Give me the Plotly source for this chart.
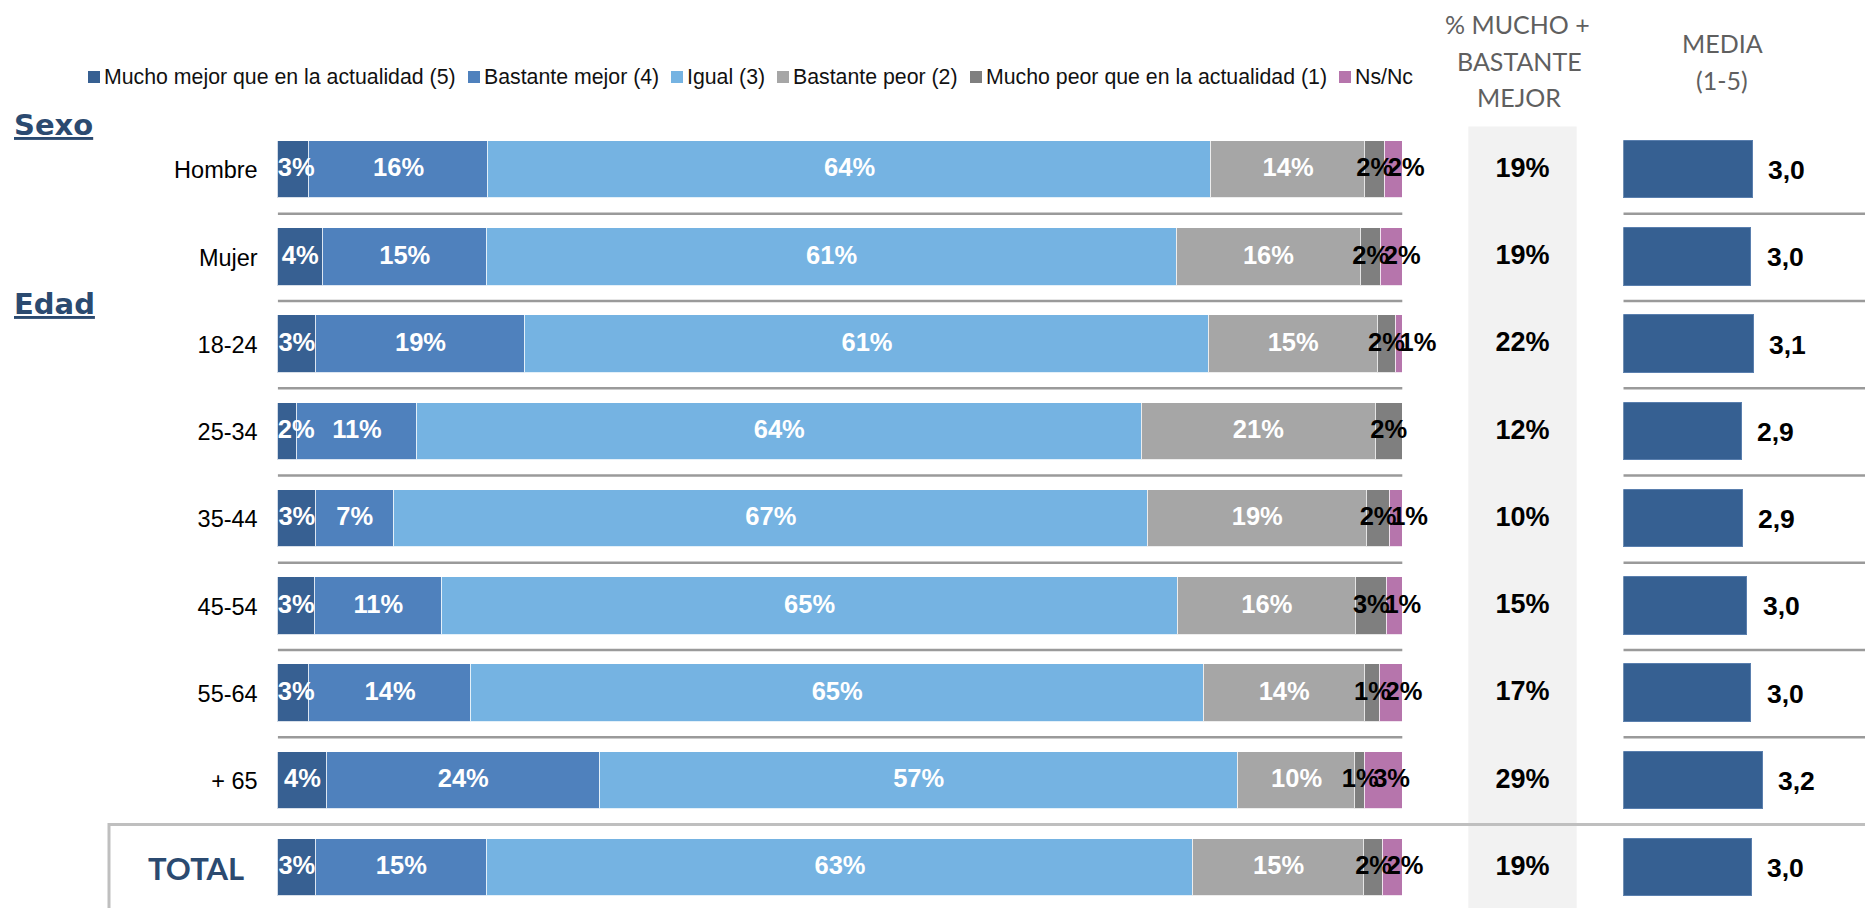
import plotly.graph_objects as go

# ---------------- data ----------------
rows = ["Hombre", "Mujer", "18-24", "25-34", "35-44", "45-54", "55-64", "+ 65", "TOTAL"]

series_names = [
    "Mucho mejor que en la actualidad (5)",
    "Bastante mejor (4)",
    "Igual (3)",
    "Bastante peor (2)",
    "Mucho peor que en la actualidad (1)",
    "Ns/Nc",
]
mucho_mejor = [2.8, 4.0, 3.4, 1.7, 3.4, 3.3, 2.8, 4.4, 3.4]
bastante_mejor = [15.9, 14.6, 18.6, 10.7, 6.9, 11.3, 14.4, 24.2, 15.2]
igual = [64.3, 61.3, 60.8, 64.4, 67.1, 65.4, 65.1, 56.8, 62.8]
bastante_peor = [13.7, 16.4, 15.0, 20.8, 19.4, 15.9, 14.4, 10.4, 15.2]
mucho_peor = [1.7, 1.8, 1.6, 2.4, 2.1, 2.7, 1.3, 0.9, 1.7]
ns_nc = [1.6, 1.9, 0.6, 0.0, 1.1, 1.4, 2.0, 3.3, 1.7]

pct_mucho_bastante = [19, 19, 22, 12, 10, 15, 17, 29, 19]
media = [3.04, 3.02, 3.06, 2.87, 2.89, 2.96, 3.02, 3.20, 3.03]

# ---------------- styles ----------------
W, H = 1865, 908
colors = ["#376092", "#4F81BD", "#75B3E2", "#A6A6A6", "#7F7F7F", "#B675AC"]
label_colors = ["white", "white", "white", "white", "black", "black"]
navy = "#2B4A70"
header_gray = "#5F5F5F"
sep_gray = "#9A9A9A"
ARIAL = "Liberation Sans, Arial, sans-serif"

ypos = list(range(len(rows)))
top_px = 126.4
row_px = 87.25
y_end = -0.5 + (H - top_px) / row_px
bar_w = 0.661

# stacked axis: 0..100 % spans 277.7px..1402.3px; range extended to 105 so that
# labels past the bar end stay visible
x_left = 277.7
px_per_pct = (1402.3 - 277.7) / 100
x_max = 105
x_right = x_left + x_max * px_per_pct
m_left = 1623.3
m_px_per_unit = 63.5
m_end = 1 + (W - m_left) / m_px_per_unit
c_left, c_right = 1468.3, 1576.7

# label placement helpers (in % units of the stacked axis)
LABEL_HALF = 1.65      # half of a "3%" label, keeps first label inside the plot
LABEL_STEP = 2.8       # min distance between the two right-most labels

fig = go.Figure()

all_series = [mucho_mejor, bastante_mejor, igual, bastante_peor, mucho_peor, ns_nc]

# stacked bars (labels drawn afterwards, on top of every bar)
for name, vals, col in zip(series_names, all_series, colors):
    fig.add_trace(go.Bar(
        y=ypos, x=vals, name=name, orientation="h",
        marker=dict(color=col, line=dict(color="rgba(255,255,255,0.8)", width=1)),
        width=bar_w, showlegend=False, hoverinfo="skip",
        xaxis="x", yaxis="y",
    ))

# segment label positions: centre of each segment, nudged like the original
mids_all = []
cum = [0.0] * len(rows)
for vals in all_series:
    mids_all.append([c + v / 2 for c, v in zip(cum, vals)])
    cum = [c + v for c, v in zip(cum, vals)]
mids_all[0] = [max(m, LABEL_HALF) for m in mids_all[0]]
mids_all[5] = [max(m, p + LABEL_STEP) for m, p in zip(mids_all[5], mids_all[4])]

for vals, mids, lc in zip(all_series, mids_all, label_colors):
    fig.add_trace(go.Scatter(
        x=mids, y=ypos, mode="text",
        text=[f"{v:.0f}%" if v > 0 else "" for v in vals],
        textposition="middle center",
        textfont=dict(family=ARIAL, size=25.5, color=lc, weight="bold"),
        cliponaxis=False, showlegend=False, hoverinfo="skip",
        xaxis="x", yaxis="y",
    ))

# media bars
fig.add_trace(go.Bar(
    y=ypos, x=media, orientation="h", width=bar_w,
    marker=dict(color="#366092", line=dict(color="#5A7FAE", width=1)),
    showlegend=False, hoverinfo="skip", xaxis="x2", yaxis="y",
))

# % mucho + bastante column
fig.add_trace(go.Scatter(
    x=[0] * len(rows), y=ypos, mode="text",
    text=[f"{v}%" for v in pct_mucho_bastante],
    textfont=dict(family=ARIAL, size=27, color="black", weight="bold"),
    textposition="middle center", cliponaxis=False,
    showlegend=False, hoverinfo="skip", xaxis="x3", yaxis="y",
))

annotations = []
# media labels
for yi, v in zip(ypos, media):
    annotations.append(dict(
        x=v, y=yi, xref="x2", yref="y", xanchor="left", yanchor="middle",
        xshift=13, text=f"{v:.1f}".replace(".", ","), showarrow=False,
        font=dict(family=ARIAL, size=26.5, color="black", weight="bold"),
    ))

# TOTAL label
annotations.append(dict(
    x=196 / W, y=ypos[-1], xref="paper", yref="y", xanchor="center", yanchor="middle",
    text="<b>TOTAL</b>", showarrow=False,
    font=dict(family="Lato, DejaVu Sans, sans-serif", size=31, color=navy),
))
# group headings
for txt, ypx in [("Sexo", 125), ("Edad", 304)]:
    annotations.append(dict(
        x=12 / W, y=1 - ypx / H, xref="paper", yref="paper", xanchor="left", yanchor="middle",
        text=f"<b><u>{txt}</u></b>", showarrow=False,
        font=dict(family="DejaVu Sans, sans-serif", size=29, color=navy),
    ))
# column headers
for txt, xpx, ypx in [("% MUCHO +", 1517, 24), ("BASTANTE", 1519, 61), ("MEJOR", 1519, 97),
                      ("MEDIA", 1722, 43), ("(1-5)", 1722, 80)]:
    annotations.append(dict(
        x=xpx / W, y=1 - ypx / H, xref="paper", yref="paper", xanchor="center", yanchor="middle",
        text=txt, showarrow=False,
        font=dict(family="Lato, Open Sans, sans-serif", size=25, color=header_gray),
    ))

shapes = []
# grey background column
shapes.append(dict(type="rect", xref="paper", yref="paper",
                   x0=c_left / W, x1=c_right / W, y0=0, y1=1 - top_px / H,
                   fillcolor="#F2F2F2", line=dict(width=0), layer="below"))
# row separators
for i in range(len(rows) - 2):
    yv = ypos[i] + 0.5
    shapes.append(dict(type="line", xref="x", yref="y", x0=0, x1=100, y0=yv, y1=yv,
                       line=dict(color=sep_gray, width=2.5)))
    shapes.append(dict(type="line", xref="x2", yref="y", x0=1, x1=m_end, y0=yv, y1=yv,
                       line=dict(color=sep_gray, width=2.5)))
# TOTAL box
box_top = 1 - (top_px + (len(rows) - 1) * row_px) / H
shapes.append(dict(type="rect", xref="paper", yref="paper",
                   x0=109 / W, x1=1.05, y0=-0.2, y1=box_top,
                   line=dict(color="#BFBFBF", width=3), fillcolor="rgba(0,0,0,0)"))

# legend drawn as squares + texts
leg_x = [88, 468, 671, 777, 970, 1339]
leg_y = 77
for sx, name, col in zip(leg_x, series_names, colors):
    shapes.append(dict(type="rect", xref="paper", yref="paper",
                       x0=sx / W, x1=(sx + 12) / W,
                       y0=1 - (leg_y + 6) / H, y1=1 - (leg_y - 6) / H,
                       fillcolor=col, line=dict(width=0)))
    annotations.append(dict(
        x=(sx + 14) / W, y=1 - leg_y / H, xref="paper", yref="paper",
        xanchor="left", yanchor="middle", text=name, showarrow=False,
        font=dict(family=ARIAL, size=21.3, color="#111111"),
    ))

fig.update_layout(
    width=W, height=H,
    margin=dict(l=0, r=0, t=0, b=0, pad=0),
    paper_bgcolor="white", plot_bgcolor="rgba(0,0,0,0)",
    barmode="stack", bargap=0,
    showlegend=False,
    font=dict(family=ARIAL, color="black"),
    xaxis=dict(domain=[x_left / W, x_right / W], range=[0, x_max], visible=False, fixedrange=True),
    xaxis2=dict(domain=[m_left / W, 1], range=[1, m_end], visible=False, anchor="y", fixedrange=True),
    xaxis3=dict(domain=[c_left / W, c_right / W], range=[-1, 1], visible=False, anchor="y", fixedrange=True),
    yaxis=dict(domain=[0, 1 - top_px / H], range=[y_end, -0.5], anchor="x",
               tickvals=ypos, ticktext=[r if r != "TOTAL" else "" for r in rows],
               ticks="", showgrid=False, zeroline=False, showline=False,
               ticklabelstandoff=19, tickfont=dict(family=ARIAL, size=23.5, color="black"),
               fixedrange=True),
    annotations=annotations,
    shapes=shapes,
)

fig.write_html("out.html", config={"displayModeBar": False},
               post_script="document.body.style.margin='0';document.body.style.overflow='hidden';")
